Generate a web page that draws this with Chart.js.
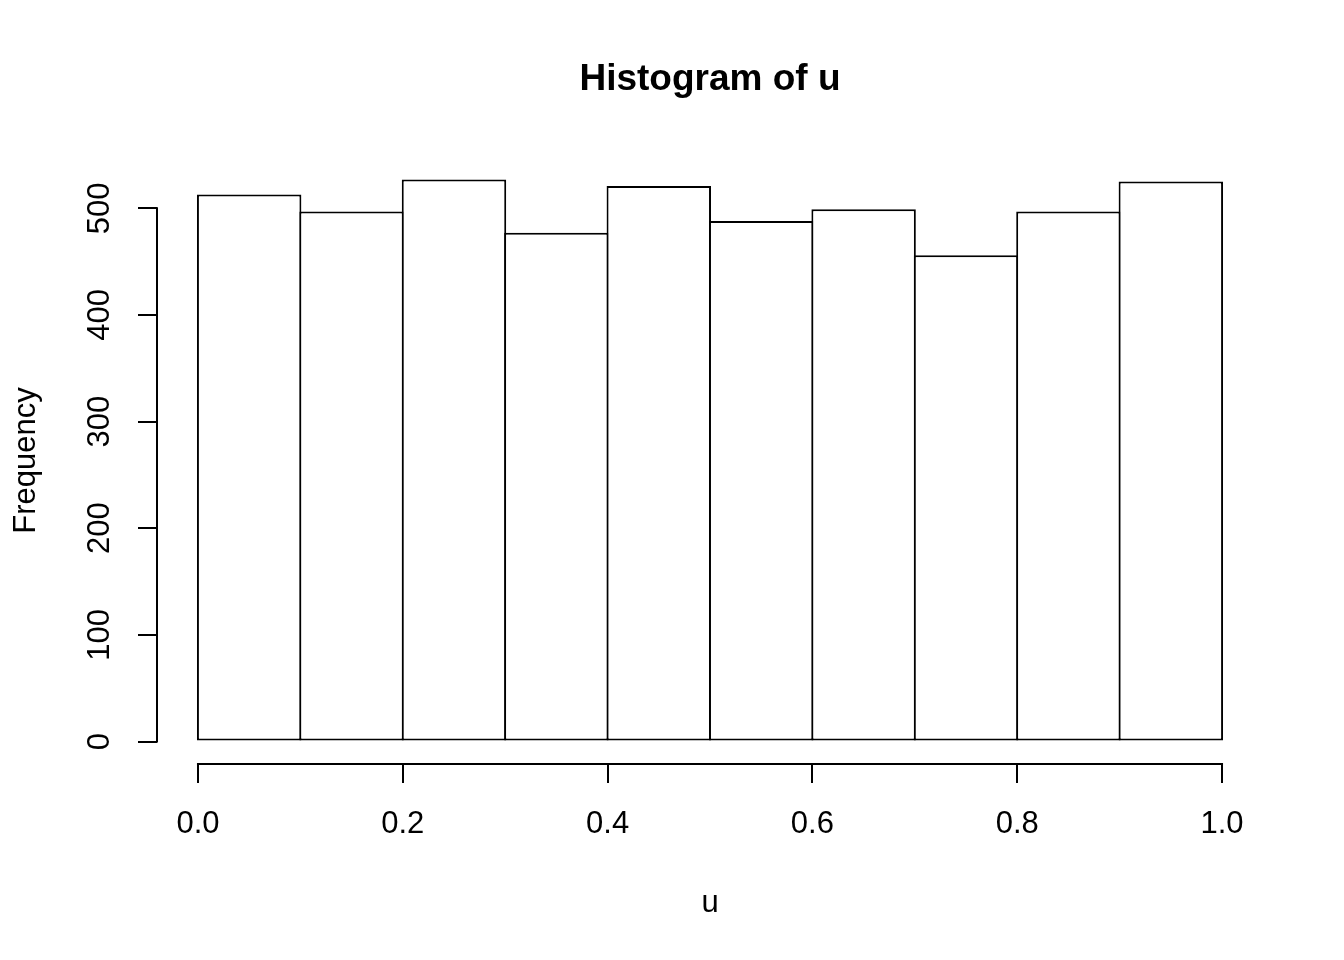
<!DOCTYPE html>
<html>
<head>
<meta charset="utf-8">
<title>Histogram of u</title>
<script src="https://cdn.jsdelivr.net/npm/chart.js@4"></script>
<style>
  body { margin: 0; background: #fff; }
  canvas { display: block; }
</style>
</head>
<body>
<canvas id="histChart" width="1344" height="960"></canvas>
<script>
// histogram bins and counts
const breaks = [0.0, 0.1, 0.2, 0.3, 0.4, 0.5, 0.6, 0.7, 0.8, 0.9, 1.0];
const counts = [513, 497, 527, 477, 521, 488, 499, 456, 497, 525];
const xTicks = [0.0, 0.2, 0.4, 0.6, 0.8, 1.0];
const yTicks = [0, 100, 200, 300, 400, 500];

const FONT = "'Liberation Sans', Arial, sans-serif";

const points = counts.map((c, i) => ({ x: (breaks[i] + breaks[i + 1]) / 2, y: c }));

// R-style axes: line only spans first..last tick, plus title and rotated y labels
const rAxes = {
  id: 'rAxes',
  afterDraw(chart) {
    const ctx = chart.ctx;
    const xs = chart.scales.x, ys = chart.scales.y;
    const area = chart.chartArea;
    ctx.save();
    ctx.strokeStyle = '#000';
    ctx.lineWidth = 2;
    ctx.beginPath();
    ctx.moveTo(xs.getPixelForValue(xTicks[0]) - 1, area.bottom);
    ctx.lineTo(xs.getPixelForValue(xTicks[xTicks.length - 1]) + 1, area.bottom);
    ctx.moveTo(area.left, ys.getPixelForValue(yTicks[0]) + 1);
    ctx.lineTo(area.left, ys.getPixelForValue(yTicks[yTicks.length - 1]) - 1);
    ctx.stroke();

    ctx.fillStyle = '#000';
    ctx.font = '31px ' + FONT;
    ctx.textAlign = 'center';
    ctx.textBaseline = 'middle';
    yTicks.forEach(v => {
      ctx.save();
      ctx.translate(100.5, ys.getPixelForValue(v));
      ctx.rotate(-Math.PI / 2);
      ctx.fillText(String(v), 0, 0);
      ctx.restore();
    });

    ctx.font = 'bold 37px ' + FONT;
    ctx.fillText('Histogram of u', (area.left + area.right) / 2, 80);
    ctx.restore();
  }
};

const ctx = document.getElementById('histChart').getContext('2d');

new Chart(ctx, {
  type: 'bar',
  data: {
    datasets: [{
      data: points,
      backgroundColor: '#fff',
      borderColor: '#000',
      borderWidth: 2,
      borderSkipped: false,
      barPercentage: 1.02,
      categoryPercentage: 1
    }]
  },
  options: {
    responsive: false,
    animation: false,
    layout: { padding: { left: 0, right: 81, top: 157, bottom: 0 } },
    plugins: {
      legend: { display: false },
      tooltip: { enabled: false },
      title: { display: false }
    },
    scales: {
      x: {
        type: 'linear',
        offset: false,
        min: -0.04,
        max: 1.04,
        afterBuildTicks: s => { s.ticks = xTicks.map(v => ({ value: v })); },
        afterFit: s => { s.height = 196; },
        grid: { offset: false, drawOnChartArea: false, drawTicks: true, tickLength: 19, color: '#000', lineWidth: 2 },
        border: { display: false },
        ticks: {
          color: '#000',
          font: { family: FONT, size: 31 },
          padding: 23,
          maxRotation: 0,
          autoSkip: false,
          callback: v => v.toFixed(1)
        },
        title: {
          display: true,
          text: 'u',
          color: '#000',
          font: { family: FONT, size: 31 },
          padding: { top: 0, bottom: 38 }
        }
      },
      y: {
        type: 'linear',
        min: -21.08,
        max: 548.08,
        afterBuildTicks: s => { s.ticks = yTicks.map(v => ({ value: v })); },
        afterFit: s => { s.width = 157; },
        grid: { drawOnChartArea: false, drawTicks: true, tickLength: 19, color: '#000', lineWidth: 2 },
        border: { display: false },
        ticks: { display: false, autoSkip: false },
        title: {
          display: true,
          text: 'Frequency',
          color: '#000',
          font: { family: FONT, size: 31 },
          padding: { top: 8, bottom: 0 }
        }
      }
    }
  },
  plugins: [rAxes]
});
</script>
</body>
</html>
